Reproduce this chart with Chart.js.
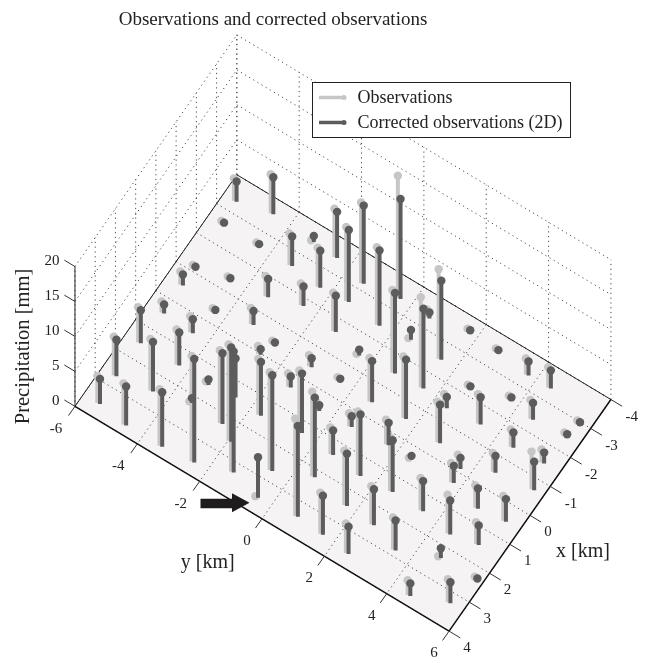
<!DOCTYPE html>
<html>
<head>
<meta charset="utf-8">
<title>Observations and corrected observations</title>
<script src="https://cdn.jsdelivr.net/npm/chart.js@4"></script>
<style>
  html, body { margin: 0; padding: 0; background: #fff; }
  canvas { display: block; }
</style>
</head>
<body>
<canvas id="chart" width="647" height="663"></canvas>
<script>
// station positions in km
const stationX = [
  3.58, 2.66, 3.72, 1.50, 2.50, 3.71, 1.48, 3.62, 2.21, 1.53,
  2.27, 2.58, 1.44, 3.29, 0.50, 0.44, -0.38, -0.52, -1.14, -1.37,
  -2.63, -2.62, -3.34, -3.57, -2.59, -3.49, -3.44, -2.54, -3.20, -3.37,
  -2.47, -2.41, -1.48, -1.53, -3.32, -2.49, -2.53, -1.48, -1.78, -1.62,
  -0.59, -0.46, -1.39, -0.41, -0.53, -0.44, -0.53, 0.03, 1.51, 2.69,
  0.39, 1.33, 3.55, 3.43, 2.22, 0.54, 1.41, 2.45, 0.46, 1.52,
  0.36, 1.44, 0.37, 2.52, 3.50, 3.59, 2.82, 1.46, 1.63, 0.60,
  1.47, 2.34, 3.71, 3.30, 2.32, 0.51, -0.11, 0.33, -0.53, -1.47,
  -0.67, -1.40, -2.50, -2.98, -2.37, -2.58, -1.49, -2.25, -1.39, -0.44,
  -3.61, -3.54, -3.38, -3.39
];
const stationY = [
  -5.47, -5.54, -4.54, -5.51, -4.47, -3.39, -4.29, -2.42, -3.41, -3.32,
  -2.39, -1.91, -2.51, -1.37, -4.49, -5.45, -4.34, -5.47, -5.47, -4.50,
  -5.52, -4.39, -5.58, -4.55, -3.31, -3.20, -2.42, -1.46, -1.41, -0.34,
  -2.33, -0.39, 0.71, 1.59, 0.62, 1.54, 0.54, -3.36, -2.42, -1.28,
  -3.25, -2.48, -0.38, -1.27, -0.43, 0.65, 1.68, -2.62, -1.65, -0.52,
  -1.42, -0.45, -0.42, 0.78, 0.54, -0.41, 0.60, 1.72, 0.58, 1.55,
  1.70, 2.53, 2.44, 2.63, 1.63, 2.51, 3.52, 3.52, 4.50, 4.72,
  5.31, 4.66, 4.57, 5.59, 5.82, 5.56, 3.70, 3.77, 4.55, 5.50,
  5.70, 4.56, 5.57, 5.67, 4.56, 3.73, 3.45, 2.63, 2.43, 2.83,
  1.74, 2.69, 3.76, 4.47
];
// precipitation in mm
const observed = [
  3.9, 5.5, 5.9, 5.0, 7.4, 8.1, 5.0, 15.1, 0.1, 0.4,
  10.4, 13.8, 5.9, 17.6, 2.3, 1.6, 0.2, 1.85, 0.2, 0.2,
  0.2, 0.2, 3.2, 5.6, 4.5, 0.1, 6.9, 10.6, 11.5, 17.5,
  5.6, 11.1, 11.8, 12.9, 1.15, 12.8, 0.1, 2.9, 3.1, 5.5,
  2.3, 0.2, 0.1, 1.6, 0.2, 6.2, 8.8, 1.1, 8.0, 14.0,
  1.9, 8.8, 0.1, 13.9, 12.1, 1.1, 3.8, 7.8, 1.85, 9.1,
  3.5, 7.7, 0.1, 5.45, 5.9, 4.2, 4.6, 4.6, 5.55, 3.2,
  3.1, 0.1, 2.1, 3.3, 0.2, 3.55, 1.9, 2.75, 2.7, 1.85,
  5.4, 2.5, 0.2, 0.2, 2.7, 0.2, 4.2, 0.2, 1.9, 5.8,
  0.2, 0.2, 2.3, 2.9
];
const corrected = [
  3.6, 5.2, 5.6, 4.7, 7.1, 7.8, 4.7, 14.8, 0.7, 0.8,
  10.1, 13.5, 5.6, 17.3, 2.0, 1.3, 0.1, 1.55, 0.1, 0.1,
  0.1, 0.1, 2.9, 5.3, 4.2, 0.85, 6.6, 10.3, 11.2, 14.3,
  5.3, 10.8, 11.5, 11.4, 0.85, 11.3, 1.4, 2.6, 2.8, 5.2,
  2.0, 0.1, 0.85, 1.3, 0.1, 5.9, 8.5, 0.8, 7.7, 13.7,
  1.6, 8.5, 5.8, 13.0, 11.4, 0.8, 3.5, 7.5, 1.55, 8.8,
  3.2, 7.4, 0.5, 5.15, 5.6, 3.9, 4.3, 4.3, 4.85, 2.9,
  2.8, 1.4, 1.8, 3.0, 0.1, 3.25, 1.6, 2.45, 2.4, 1.55,
  4.1, 2.2, 0.1, 0.1, 2.4, 0.1, 3.9, 0.1, 1.6, 5.5,
  0.1, 0.1, 2.0, 2.6
];
const xTicks = [-4, -3, -2, -1, 0, 1, 2, 3, 4];
const yTicks = [-6, -4, -2, 0, 2, 4, 6];
const zTicks = [0, 5, 10, 15, 20];

const FONT = '"Liberation Serif", "Times New Roman", serif';
const LIGHT = '#c6c6c6';
const DARK = '#5c5c5c';
const GRID = '#4a4a4a';
const FLOOR = '#f5f3f4';

// light stems sit slightly off the dark ones in the figure
const obsShiftX = 0.015;
const obsShiftY = -0.076;

// orthographic view of the box, on a plane measured like the page
function project(x, y, z) {
  const u = (y + 6) / 12;
  const v = (4 - x) / 8;
  return {
    x: 71.7 + 379 * u + 164 * v,
    y: 407.3 + 227.7 * u - 234.6 * v - 7.08 * z
  };
}

const gap = { x: NaN, y: NaN };

function segments(list) {
  const pts = [];
  list.forEach(s => pts.push(project(...s[0]), project(...s[1]), gap));
  return pts;
}

function lineSet(data, color, width, order, extra) {
  return Object.assign({
    type: 'line', data, borderColor: color, borderWidth: width, order,
    pointRadius: 0, tension: 0, fill: false, spanGaps: false
  }, extra);
}

// dotted grid on the floor and the two back walls
const floorGrid = [];
xTicks.forEach(x => floorGrid.push([[x, -6, 0], [x, 6, 0]]));
yTicks.forEach(y => floorGrid.push([[-4, y, 0], [4, y, 0]]));
const wallGrid = [];
zTicks.forEach(z => {
  wallGrid.push([[4, -6, z], [-4, -6, z]]);
  wallGrid.push([[-4, -6, z], [-4, 6, z]]);
});
xTicks.forEach(x => wallGrid.push([[x, -6, 0], [x, -6, 20]]));
yTicks.forEach(y => wallGrid.push([[-4, y, 0], [-4, y, 20]]));

const tickMarks = [];
yTicks.forEach(y => tickMarks.push([[4, y, 0], [4.32, y, 0]]));
xTicks.forEach(x => tickMarks.push([[x, 6, 0], [x, 6.36, 0]]));
zTicks.forEach(z => tickMarks.push([[4, -6, z], [4, -6.34, z]]));

const floor = [project(4, -6, 0), project(4, 6, 0), project(-4, 6, 0), project(-4, -6, 0), project(4, -6, 0)];

const obsStems = segments(stationX.map((x, i) => [
  [x + obsShiftX, stationY[i] + obsShiftY, 0],
  [x + obsShiftX, stationY[i] + obsShiftY, observed[i]]
]));
const corStems = segments(stationX.map((x, i) => [
  [x, stationY[i], 0],
  [x, stationY[i], corrected[i]]
]));
const obsHeads = stationX.map((x, i) => project(x + obsShiftX, stationY[i] + obsShiftY, observed[i]));
const corHeads = stationX.map((x, i) => project(x, stationY[i], corrected[i]));

function text(ctx, s, x, y, size, align) {
  ctx.font = size + 'px ' + FONT;
  ctx.textAlign = align || 'center';
  ctx.textBaseline = 'middle';
  ctx.fillStyle = '#222';
  ctx.fillText(s, x, y);
}

const labelsPlugin = {
  id: 'labels',
  afterDatasetsDraw(chart) {
    const ctx = chart.ctx;
    const sx = chart.scales.x;
    const sy = chart.scales.y;
    const at = p => ({ x: sx.getPixelForValue(p.x), y: sy.getPixelForValue(p.y) });
    ctx.save();

    text(ctx, 'Observations and corrected observations', 273, 20, 19);

    zTicks.forEach(z => {
      const p = at(project(4, -6, z));
      text(ctx, String(z), p.x - 15.5, p.y - 5, 15, 'right');
    });
    yTicks.forEach(y => {
      const p = at(project(4, y, 0));
      text(ctx, String(y), p.x + (y < 0 ? -19 : -15), p.y + 22.3, 15);
    });
    xTicks.forEach(x => {
      const p = at(project(x, 6, 0));
      text(ctx, String(x), p.x + (x < 0 ? 20.8 : 18), p.y + 17.2, 15);
    });

    text(ctx, 'y [km]', 207.7, 563, 20);
    text(ctx, 'x [km]', 583, 552, 20);
    ctx.save();
    ctx.translate(24, 346.5);
    ctx.rotate(-Math.PI / 2);
    text(ctx, 'Precipitation [mm]', 0, 0, 20.5);
    ctx.restore();

    // legend box
    ctx.fillStyle = '#fff';
    ctx.fillRect(312.5, 82.5, 258, 55);
    ctx.strokeStyle = '#222';
    ctx.lineWidth = 1;
    ctx.strokeRect(312.5, 82.5, 258, 55);
    [[LIGHT, 97.5, 'Observations'], [DARK, 122.5, 'Corrected observations (2D)']].forEach(row => {
      ctx.strokeStyle = row[0];
      ctx.lineWidth = 3.5;
      ctx.beginPath();
      ctx.moveTo(319, row[1]);
      ctx.lineTo(344, row[1]);
      ctx.stroke();
      ctx.fillStyle = row[0];
      ctx.beginPath();
      ctx.arc(344, row[1], 2.5, 0, Math.PI * 2);
      ctx.fill();
      text(ctx, row[2], 357.5, row[1] + 1, 18, 'left');
    });

    // arrow pointing at the corrected station
    ctx.fillStyle = '#1e1c1c';
    ctx.beginPath();
    ctx.moveTo(200.5, 498.7);
    ctx.lineTo(232, 498.7);
    ctx.lineTo(232, 493.3);
    ctx.lineTo(249.5, 502.8);
    ctx.lineTo(232, 512.3);
    ctx.lineTo(232, 508.3);
    ctx.lineTo(200.5, 508.3);
    ctx.closePath();
    ctx.fill();
    ctx.restore();
  }
};

new Chart(document.getElementById('chart').getContext('2d'), {
  data: {
    datasets: [
      lineSet(floor, FLOOR, 0, 20, { fill: 'shape', backgroundColor: FLOOR }),
      lineSet(segments(wallGrid), GRID, 1, 19, { borderDash: [1.2, 3.6] }),
      lineSet(segments(floorGrid), GRID, 1, 18, { borderDash: [1.2, 3.6] }),
      lineSet(segments([[[4, -6, 0], [-4, -6, 0]], [[-4, -6, 0], [-4, 6, 0]]]), '#222', 1, 17),
      lineSet(segments([[[4, -6, 0], [4, 6, 0]], [[4, 6, 0], [-4, 6, 0]]]), '#111', 1.5, 16),
      lineSet(segments([[[4, -6, 0], [4, -6, 20]]]), '#222', 1, 15),
      lineSet(segments(tickMarks), '#333', 1, 14),
      lineSet(obsStems, LIGHT, 4, 5),
      { type: 'scatter', data: obsHeads, pointRadius: 4.2, pointBorderWidth: 0, pointBackgroundColor: LIGHT, order: 4 },
      lineSet(corStems, DARK, 4, 3),
      { type: 'scatter', data: corHeads, pointRadius: 4.2, pointBorderWidth: 0, pointBackgroundColor: DARK, order: 2 }
    ]
  },
  options: {
    responsive: false,
    animation: false,
    events: [],
    layout: { padding: 0 },
    plugins: { legend: { display: false }, tooltip: { enabled: false }, title: { display: false } },
    scales: {
      x: { type: 'linear', min: 0, max: 647, display: false },
      y: { type: 'linear', min: 0, max: 663, reverse: true, display: false }
    }
  },
  plugins: [labelsPlugin]
});
</script>
</body>
</html>
